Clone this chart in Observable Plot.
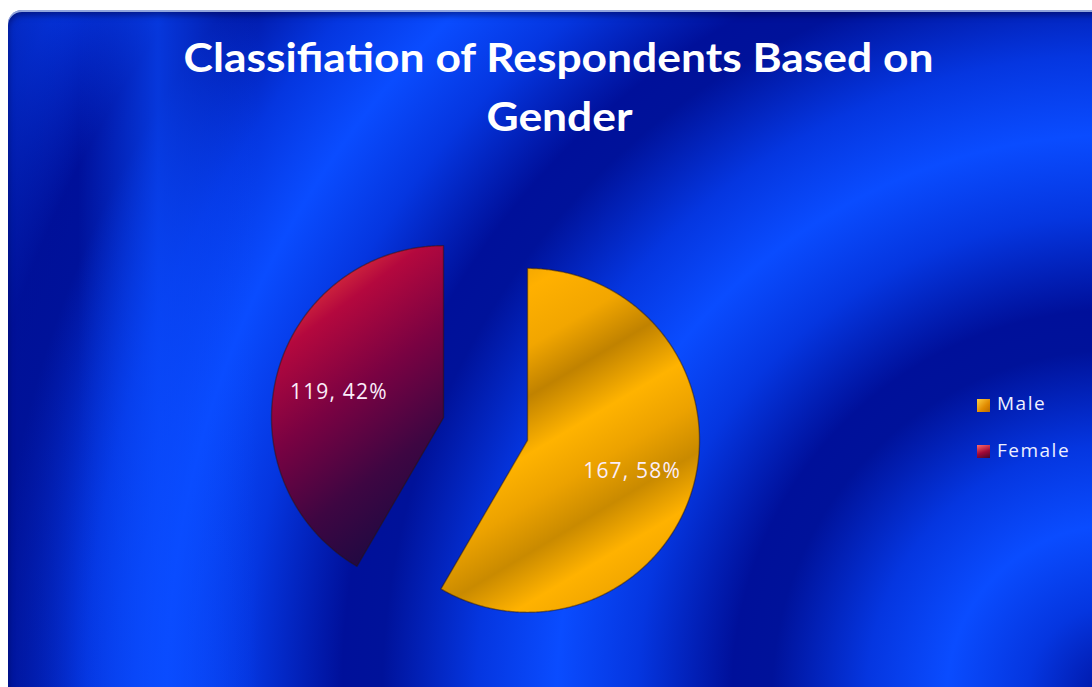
<!DOCTYPE html>
<html>
<head>
<meta charset="utf-8">
<script src="https://cdn.jsdelivr.net/npm/d3@7"></script>
<script src="https://cdn.jsdelivr.net/npm/@observablehq/plot@0.6"></script>
<style>
  html, body { margin: 0; padding: 0; background: #ffffff; width: 1092px; height: 687px; overflow: hidden; }
  #bg {
    position: absolute; left: 8px; top: 10px; width: 1110px; height: 700px;
    border-top-left-radius: 14px;
    background:
      linear-gradient(90deg, rgba(0,18,150,0.5) 0px, rgba(5,54,224,0) 70px, rgba(10,76,255,0.65) 150px, rgba(10,76,255,0) 250px),
      repeating-radial-gradient(circle at 1109px 685px,
        #0a4cff 170px, #0536e0 250px, #00129a 345px, #00109a 385px, #0536e0 480px, #0a4cff 560px);
    box-shadow: inset 0 2px 0 rgba(170,190,235,0.85), inset 0 5px 6px rgba(0,0,60,0.5);
  }
  #title {
    position: absolute; left: 0; top: 0; width: 1092px;
    font-family: Lato, "Open Sans", sans-serif; font-weight: 700; color: #ffffff;
    font-size: 41px; line-height: 53px;
  }
  #title div { position: absolute; left: 13px; width: 1092px; text-align: center; white-space: nowrap; }
  #title span { display: inline-block; transform-origin: center; }
  #chart { position: absolute; left: 0; top: 0; }
  #chart svg { background: transparent; }
  .pie text { letter-spacing: 1.2px; }
  #legend { position: absolute; left: 0; top: 0; font-family: "Open Sans", sans-serif; font-size: 19px; color: #eef0ff; letter-spacing: 1.5px; }
  #legend .item { position: absolute; white-space: nowrap; }
  #legend .sw { position: absolute; width: 13px; height: 13px; }
</style>
</head>
<body>
<svg width="0" height="0" style="position:absolute">
  <defs>
    <linearGradient id="gradMale" x1="0.15" y1="0" x2="0.6" y2="1">
      <stop offset="0" stop-color="#e89e00"/>
      <stop offset="0.12" stop-color="#ffb000"/>
      <stop offset="0.26" stop-color="#f2a600"/>
      <stop offset="0.38" stop-color="#c08200"/>
      <stop offset="0.52" stop-color="#ffb300"/>
      <stop offset="0.64" stop-color="#eca200"/>
      <stop offset="0.76" stop-color="#c98a00"/>
      <stop offset="0.88" stop-color="#ffb200"/>
      <stop offset="1" stop-color="#eea400"/>
    </linearGradient>
    <linearGradient id="gradFemale" x1="0.3" y1="0" x2="0.7" y2="1">
      <stop offset="0" stop-color="#f37c2e"/>
      <stop offset="0.06" stop-color="#e0383a"/>
      <stop offset="0.2" stop-color="#b4083e"/>
      <stop offset="0.45" stop-color="#7a0242"/>
      <stop offset="0.72" stop-color="#3e0642"/>
      <stop offset="1" stop-color="#180a42"/>
    </linearGradient>
  </defs>
</svg>
<div id="bg"></div>
<div id="title">
  <div style="top:30px"><span id="t1">Classifiation of Respondents Based on</span></div>
  <div style="top:89px"><span id="t2">Gender</span></div>
</div>
<div id="chart"></div>
<div id="legend"></div>
<script>
// ---- data ----
const genders = ["Male", "Female"];
const counts = [167, 119];
const sliceFills = ["url(#gradMale)", "url(#gradFemale)"];
const legendSwatch = ["linear-gradient(135deg,#ffcf40,#e08a00 60%,#b86a00)", "linear-gradient(160deg,#ff6a6a,#a00838 55%,#40062e)"];

// ---- layout ----
const W = 1092, H = 687;
const CX = 485, CY = 428.5, R = 172, EXPLODE = 43.5;

const total = d3.sum(counts);
const rows = genders.map((g, i) => ({gender: g, count: counts[i]}));
const arcs = d3.pie().sort(null).value(d => d.count)(rows);

const e = EXPLODE / R;
const pts = [];
const labels = [];
for (const a of arcs) {
  const mid = (a.startAngle + a.endAngle) / 2;
  const ox = e * Math.sin(mid), oy = e * Math.cos(mid);
  pts.push({gender: a.data.gender, x: ox, y: oy});
  const n = Math.ceil((a.endAngle - a.startAngle) / (Math.PI / 360));
  for (let k = 0; k <= n; k++) {
    const t = a.startAngle + (a.endAngle - a.startAngle) * k / n;
    pts.push({gender: a.data.gender, x: ox + Math.sin(t), y: oy + Math.cos(t)});
  }
  labels.push({
    x: ox + 0.63 * Math.sin(mid),
    y: oy + 0.63 * Math.cos(mid),
    text: `${a.data.count}, ${Math.round(a.data.count / total * 100)}%`
  });
}

const plot = Plot.plot({
  width: W, height: H,
  marginTop: 0, marginRight: 0, marginBottom: 0, marginLeft: 0,
  className: "pie",
  x: {domain: [-CX / R, (W - CX) / R], axis: null},
  y: {domain: [-(H - CY) / R, CY / R], axis: null},
  color: {domain: genders, range: sliceFills},
  marks: [
    Plot.line(pts, {x: "x", y: "y", z: "gender", fill: "gender", curve: "linear-closed",
      stroke: "#2a1400", strokeOpacity: 0.45, strokeWidth: 1.4}),
    Plot.text(labels, {x: "x", y: "y", dy: 3, text: "text", fill: "#fbeefa", fontSize: 21,
      fontFamily: "Open Sans, sans-serif"})
  ]
});
document.getElementById("chart").appendChild(plot);

// legend
const legend = document.getElementById("legend");
const legendPos = [{sx: 977, sy: 399, tx: 997, ty: 390}, {sx: 977, sy: 445, tx: 997, ty: 437}];
genders.forEach((g, i) => {
  const sw = document.createElement("div");
  sw.className = "sw";
  sw.style.left = legendPos[i].sx + "px"; sw.style.top = legendPos[i].sy + "px";
  sw.style.background = legendSwatch[i];
  legend.appendChild(sw);
  const t = document.createElement("div");
  t.className = "item";
  t.style.left = legendPos[i].tx + "px"; t.style.top = legendPos[i].ty + "px";
  t.textContent = g;
  legend.appendChild(t);
});

// fit title width to the reference's condensed face
const t1 = document.getElementById("t1"), t2 = document.getElementById("t2");
const s = 750 / t1.getBoundingClientRect().width;
t1.style.transform = `scaleX(${s})`;
t2.style.transform = `scaleX(${s})`;
</script>
</body>
</html>
